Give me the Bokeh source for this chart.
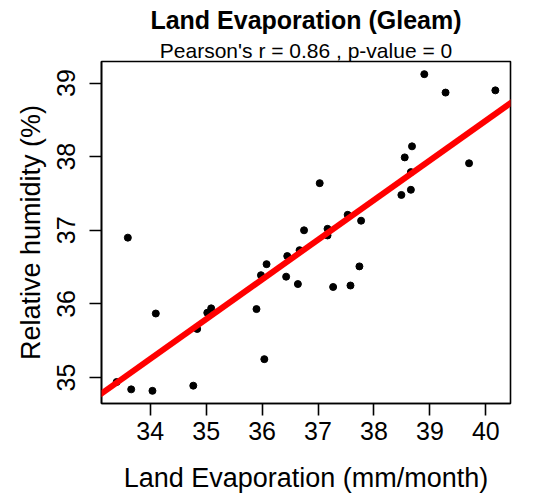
import numpy as np
from bokeh.plotting import figure
from bokeh.models import Range1d, FixedTicker, Slope, Title
from bokeh.embed import file_html
from bokeh.resources import INLINE

title = "Land Evaporation (Gleam)"
subtitle = "Pearson's r = 0.86 , p-value = 0"
x_label = "Land Evaporation (mm/month)"
y_label = "Relative humidity (%)"

evaporation = [33.40, 33.60, 33.66, 34.04, 34.10, 34.77, 34.84, 35.02, 35.09,
               35.90, 35.98, 36.04, 36.08, 36.43, 36.45, 36.64, 36.67, 36.75,
               37.03, 37.17, 37.17, 37.27, 37.53, 37.58, 37.74, 37.77, 38.49,
               38.55, 38.66, 38.66, 38.68, 38.90, 39.28, 39.70, 40.17]
humidity = [34.94, 36.90, 34.84, 34.82, 35.87, 34.89, 35.66, 35.88, 35.94,
            35.93, 36.39, 35.25, 36.54, 36.37, 36.65, 36.27, 36.73, 37.00,
            37.64, 37.02, 36.93, 36.23, 37.21, 36.25, 36.51, 37.13, 37.48,
            37.99, 37.79, 37.55, 38.14, 39.12, 38.87, 37.91, 38.90]
x_ticks = [34, 35, 36, 37, 38, 39, 40]
y_ticks = [35, 36, 37, 38, 39]

xa = np.array(evaporation)
ya = np.array(humidity)


def r_range(v):
    lo, hi = v.min(), v.max()
    pad = 0.04 * (hi - lo)
    return Range1d(lo - pad, hi + pad)


FONT = "Liberation Sans"
FRAME_W, FRAME_H = 409, 342
p = figure(frame_width=FRAME_W, frame_height=FRAME_H,
           min_border_left=101, min_border_top=61, min_border_right=17,
           min_border_bottom=90,
           x_range=r_range(xa), y_range=r_range(ya),
           output_backend="svg", toolbar_location=None)
p.grid.visible = False
p.background_fill_color = "white"
p.border_fill_color = "white"
p.outline_line_color = "black"
p.outline_line_width = 1.6

p.title = Title(text=title, align="center", text_font=FONT,
                text_font_size="25px", text_font_style="bold",
                text_color="black", standoff=6, offset=0)
p.add_layout(Title(text=subtitle, align="center", text_font=FONT,
                   text_font_size="21px", text_font_style="normal",
                   text_color="black", standoff=0), "above")

for ax in (p.xaxis[0], p.yaxis[0]):
    ax.axis_line_color = "black"
    ax.axis_line_width = 1.6
    ax.major_tick_line_color = "black"
    ax.major_tick_line_width = 1.6
    ax.major_tick_out = 12
    ax.major_tick_in = 0
    ax.minor_tick_line_color = None
    ax.major_label_text_font = FONT
    ax.major_label_text_font_size = "25px"
    ax.major_label_text_color = "black"
    ax.axis_label_text_font = FONT
    ax.axis_label_text_font_size = "27px"
    ax.axis_label_text_font_style = "normal"
    ax.axis_label_text_color = "black"

p.xaxis.ticker = FixedTicker(ticks=x_ticks)
p.yaxis.ticker = FixedTicker(ticks=y_ticks)
p.yaxis.major_label_orientation = "vertical"
p.xaxis.major_label_standoff = 6
p.yaxis.major_label_standoff = 14
p.xaxis.axis_label = x_label
p.yaxis.axis_label = y_label
p.xaxis.axis_label_standoff = 20
p.yaxis.axis_label_standoff = 9

p.scatter(evaporation, humidity, size=7, color="black")

slope, intercept = np.polyfit(xa, ya, 1)
p.add_layout(Slope(gradient=slope, y_intercept=intercept,
                   line_color="#ff0000", line_width=6))

open("out.html", "w").write(file_html(p, INLINE))
